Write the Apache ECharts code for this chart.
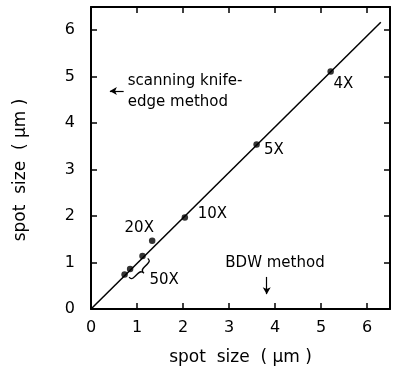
<!DOCTYPE html>
<html><head><meta charset="utf-8">
<script src="https://cdn.jsdelivr.net/npm/echarts@6/dist/echarts.min.js"></script>
<style>html,body{margin:0;padding:0;background:#fff}#c{width:393px;height:371px}</style>
</head><body><div id="c"></div>
<script>
// data
var pointX = [0.73, 0.85, 1.12, 1.33, 2.04, 3.60, 5.21];
var pointY = [0.74, 0.86, 1.14, 1.47, 1.97, 3.54, 5.11];
var fitX = [0, 6.3];
var fitY = [0, 6.17];
var tickValues = [0, 1, 2, 3, 4, 5, 6];
var magLabels = ['4X', '5X', '10X', '20X', '50X'];
var magAnchors = [[5.27, 4.84], [3.76, 3.43], [2.32, 2.04], [0.73, 1.74], [1.27, 0.62]];
var axisTitle = 'spot  size  ( \u03bcm )';

var FONT = 'DejaVu Sans';
var chart = echarts.init(document.getElementById('c'), null, {renderer: 'canvas'});

function axisBase(show, pos) {
  return {
    type: 'value', min: 0, max: 6.5, interval: 1, position: pos,
    axisLine: {show: true, onZero: false, lineStyle: {color: '#000', width: 2}},
    axisTick: {show: true, inside: true, length: 6, lineStyle: {color: '#000', width: 1.5}},
    axisLabel: {show: show, color: '#000', fontFamily: FONT, fontSize: 16,
      formatter: function (v) { return tickValues.indexOf(v) >= 0 ? String(v) : ''; }},
    splitLine: {show: false}
  };
}
var xb = axisBase(true, 'bottom');
xb.axisLabel.margin = 11;
xb.name = axisTitle; xb.nameLocation = 'middle'; xb.nameGap = 40;
xb.nameTextStyle = {color: '#000', fontFamily: FONT, fontSize: 17};
var xt = axisBase(false, 'top');
var yl = axisBase(true, 'left');
yl.axisLabel.margin = 16;
yl.name = axisTitle; yl.nameLocation = 'middle'; yl.nameGap = 62;
yl.nameTextStyle = {color: '#000', fontFamily: FONT, fontSize: 17, padding: [0, 24, 0, 0]};
var yr = axisBase(false, 'right');

chart.setOption({
  animation: false,
  grid: {left: 91, right: 1, top: 7, bottom: 59},
  xAxis: [xb, xt],
  yAxis: [yl, yr],
  series: [
    {type: 'line', data: fitX.map(function (x, i) { return [x, fitY[i]]; }),
     symbol: 'none', lineStyle: {color: '#000', width: 1.5}, silent: true},
    {type: 'scatter', data: pointX.map(function (x, i) { return [x, pointY[i]]; }),
     symbolSize: 6.5, itemStyle: {color: '#000'},
     markLine: {silent: true, symbol: ['none', 'arrow'], symbolSize: [6, 7],
       label: {show: false}, lineStyle: {color: '#000', width: 1.2, type: 'solid'},
       data: [
         [{coord: [0.71, 4.69]}, {coord: [0.41, 4.69]}],
         [{coord: [3.82, 0.69]}, {coord: [3.82, 0.32]}]
       ]}}
  ]
});

function px(p) { return chart.convertToPixel({gridIndex: 0}, p); }
var graphics = [];
magLabels.forEach(function (t, i) {
  var p = px(magAnchors[i]);
  graphics.push({type: 'text', x: p[0], y: p[1],
    style: {text: t, fill: '#000', font: '15px "' + FONT + '"', verticalAlign: 'middle'}});
});
var notes = [['scanning knife-', [0.80, 4.91]], ['edge method', [0.80, 4.46]], ['BDW method', [2.92, 0.99]]];
notes.forEach(function (n) {
  var p = px(n[1]);
  graphics.push({type: 'text', x: p[0], y: p[1],
    style: {text: n[0], fill: '#000', font: '15px "' + FONT + '"', verticalAlign: 'middle'}});
});
var bp = px([1.08, 0.80]);
graphics.push({type: 'text', x: bp[0], y: bp[1], rotation: -Math.PI / 4,
  style: {text: '}', fill: '#000', font: '300 30px "' + FONT + '"', align: 'center', verticalAlign: 'middle'}});
chart.setOption({graphic: graphics});
</script></body></html>
